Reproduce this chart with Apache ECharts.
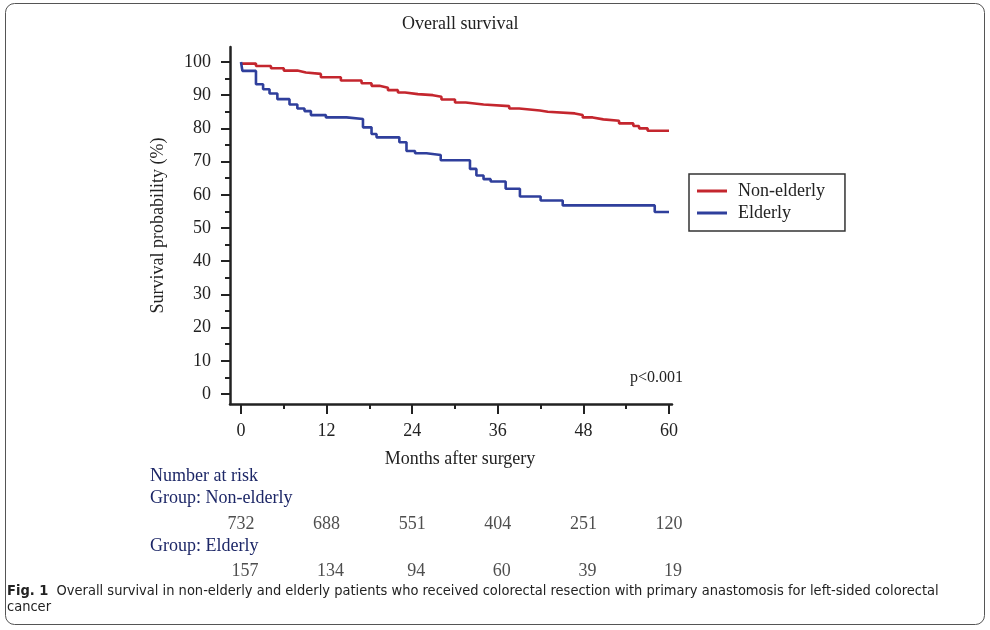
<!DOCTYPE html>
<html>
<head>
<meta charset="utf-8">
<script src="https://cdn.jsdelivr.net/npm/echarts@6/dist/echarts.min.js"></script>
<style>
html,body{margin:0;padding:0;background:#fff;}
#main{width:990px;height:630px;}
</style>
</head>
<body>
<div id="main"></div>
<script>
// ---- data ----
var seriesNames = ['Non-elderly', 'Elderly'];
var nonElderlyCurve = [
  [0, 99.5], [2.1, 98.8], [4.2, 98.1], [6.0, 97.4], [7.9, 96.8], [9.1, 96.4],
  [11.2, 95.4], [14.0, 94.4], [16.9, 93.6], [18.3, 92.8], [19.4, 92.2],
  [20.6, 91.5], [22.0, 90.8], [23.0, 90.3], [24.8, 90.0], [26.9, 89.5],
  [28.1, 88.7], [30.0, 87.8], [31.5, 87.2], [34.0, 86.7], [37.6, 86.0],
  [39.0, 85.4], [41.9, 85.0], [43.0, 84.5], [46.8, 84.0], [47.9, 83.3],
  [49.3, 82.7], [50.8, 82.3], [53.0, 81.5], [55.0, 80.7], [55.8, 80.0],
  [57.0, 79.3], [60, 79.3]
];
var elderlyCurve = [
  [0, 100], [0.2, 97.3], [2.1, 93.3], [3.1, 91.8], [4.0, 90.5], [5.1, 88.8],
  [6.8, 87.2], [7.9, 86.0], [8.9, 85.2], [9.8, 84.0], [11.9, 83.3],
  [14.8, 82.8], [17.1, 80.3], [18.3, 78.3], [19.0, 77.3], [22.2, 75.8],
  [23.2, 73.2], [24.4, 72.5], [26.0, 72.0], [28.0, 70.4], [32.1, 67.8],
  [33.0, 65.8], [34.0, 64.7], [35.0, 64.0], [37.1, 61.8], [39.1, 59.5],
  [42.0, 58.3], [45.1, 56.8], [58.0, 54.8], [60, 54.8]
];
var xMajorTicks = [0, 12, 24, 36, 48, 60];
var xMinorTicks = [6, 18, 30, 42, 54];
var yMajorTicks = [0, 10, 20, 30, 40, 50, 60, 70, 80, 90, 100];
var yMinorTicks = [5, 15, 25, 35, 45, 55, 65, 75, 85, 95];
var riskMonths = [0, 12, 24, 36, 48, 60];
var riskNonElderly = [732, 688, 551, 404, 251, 120];
var riskElderly = [157, 134, 94, 60, 39, 19];

var titleText = 'Overall survival';
var xAxisName = 'Months after surgery';
var yAxisName = 'Survival probability (%)';
var pValueText = 'p<0.001';
var riskTitle = 'Number at risk';
var groupLabels = ['Group: Non-elderly', 'Group: Elderly'];
var captionBold = 'Fig. 1';
var captionText = 'Overall survival in non-elderly and elderly patients who received colorectal resection with primary anastomosis for left-sided colorectal\ncancer';

// ---- styles ----
var SERIF = '"Liberation Serif", "Times New Roman", serif';
var CAPFONT = '"Liberation Sans Narrow", "DejaVu Sans Condensed", sans-serif';
var RED = '#c4262e';
var BLUE = '#2f3f9c';
var AXIS = '#222';
var NAVY = '#1d2767';
// axis extents: axes run a little past 0..60 and 0..100, as in the figure
var X_MIN = -1.54, X_MAX = 60.42;
var Y_MIN = -3.0, Y_MAX = 104.5;

var chart = echarts.init(document.getElementById('main'), null, {renderer: 'canvas'});

function riskData(values, row) {
  return riskMonths.map(function (m, i) { return [m, row, values[i]]; });
}

var option = {
  backgroundColor: '#fff',
  animation: false,
  title: [
    {text: titleText, left: 402, top: 15, padding: 0,
     textStyle: {fontFamily: SERIF, fontSize: 18, fontWeight: 'normal', color: AXIS}},
    {text: pValueText, left: 630, top: 370, padding: 0,
     textStyle: {fontFamily: SERIF, fontSize: 16, fontWeight: 'normal', color: AXIS}},
    {text: riskTitle, left: 150, top: 467, padding: 0,
     textStyle: {fontFamily: SERIF, fontSize: 18, fontWeight: 'normal', color: NAVY}},
    {text: groupLabels[0], left: 150, top: 489, padding: 0,
     textStyle: {fontFamily: SERIF, fontSize: 18, fontWeight: 'normal', color: NAVY}},
    {text: groupLabels[1], left: 150, top: 537, padding: 0,
     textStyle: {fontFamily: SERIF, fontSize: 18, fontWeight: 'normal', color: NAVY}},
    {text: '{b|' + captionBold + '}  ' + captionText, left: 7, top: 583, padding: 0,
     textStyle: {fontFamily: CAPFONT, fontSize: 14.5, fontWeight: 'normal', color: '#222', lineHeight: 16,
                 rich: {b: {fontFamily: CAPFONT, fontSize: 14.5, fontWeight: 'bold', color: '#222', lineHeight: 16}}}}
  ],
  legend: {
    data: seriesNames,
    orient: 'vertical',
    left: 689, top: 174,
    padding: [7, 20, 8, 8],
    itemGap: 2,
    itemWidth: 30, itemHeight: 3,
    icon: 'rect',
    borderColor: '#333', borderWidth: 1.5,
    textStyle: {fontFamily: SERIF, fontSize: 18, lineHeight: 20, color: AXIS, padding: [0, 0, 0, 6]}
  },
  grid: [
    {left: 230, top: 47, width: 442, height: 357},
    {left: 230, top: 502, width: 442, height: 90}
  ],
  xAxis: [
    {gridIndex: 0, type: 'value', position: 'bottom', min: X_MIN, max: X_MAX,
     axisLine: {show: true, onZero: false, lineStyle: {color: AXIS, width: 2.5}},
     axisTick: {show: true, customValues: xMajorTicks, length: 10, inside: false, lineStyle: {color: AXIS, width: 2}},
     axisLabel: {customValues: xMajorTicks, margin: 18, fontFamily: SERIF, fontSize: 18, color: AXIS},
     splitLine: {show: false},
     name: xAxisName, nameLocation: 'middle', nameGap: 46,
     nameTextStyle: {fontFamily: SERIF, fontSize: 18, color: AXIS, padding: [0, 0, 0, 18]}},
    {gridIndex: 0, type: 'value', position: 'bottom', offset: 0, min: X_MIN, max: X_MAX,
     axisLine: {show: false, onZero: false},
     axisTick: {show: true, customValues: xMinorTicks, length: 5, inside: false, lineStyle: {color: AXIS, width: 2}},
     axisLabel: {show: false}, splitLine: {show: false}},
    {gridIndex: 1, type: 'value', min: X_MIN, max: X_MAX, show: false}
  ],
  yAxis: [
    {gridIndex: 0, type: 'value', position: 'left', min: Y_MIN, max: Y_MAX,
     axisLine: {show: true, onZero: false, lineStyle: {color: AXIS, width: 2.5}},
     axisTick: {show: true, customValues: yMajorTicks, length: 9, inside: false, lineStyle: {color: AXIS, width: 2}},
     axisLabel: {customValues: yMajorTicks, margin: 19, fontFamily: SERIF, fontSize: 18, color: AXIS},
     splitLine: {show: false},
     name: yAxisName, nameLocation: 'middle', nameGap: 63,
     nameTextStyle: {fontFamily: SERIF, fontSize: 18, color: AXIS}},
    {gridIndex: 0, type: 'value', position: 'left', offset: 0, min: Y_MIN, max: Y_MAX,
     axisLine: {show: false, onZero: false},
     axisTick: {show: true, customValues: yMinorTicks, length: 5, inside: false, lineStyle: {color: AXIS, width: 2}},
     axisLabel: {show: false}, splitLine: {show: false}},
    {gridIndex: 1, type: 'category', data: seriesNames, inverse: true, show: false}
  ],
  series: [
    {name: seriesNames[0], type: 'line', step: 'end', xAxisIndex: 0, yAxisIndex: 0,
     data: nonElderlyCurve, showSymbol: false, symbol: 'none', color: RED,
     lineStyle: {color: RED, width: 2.6}},
    {name: seriesNames[1], type: 'line', step: 'end', xAxisIndex: 0, yAxisIndex: 0,
     data: elderlyCurve, showSymbol: false, symbol: 'none', color: BLUE,
     lineStyle: {color: BLUE, width: 2.6}},
    {type: 'scatter', xAxisIndex: 2, yAxisIndex: 2, data: riskData(riskNonElderly, seriesNames[0]),
     symbolSize: 1, itemStyle: {color: 'rgba(0,0,0,0)'}, silent: true,
     label: {show: true, position: 'inside', formatter: function (p) { return p.value[2]; },
             fontFamily: SERIF, fontSize: 18, color: AXIS}},
    {type: 'scatter', xAxisIndex: 2, yAxisIndex: 2, data: riskData(riskElderly, seriesNames[1]),
     symbolSize: 1, itemStyle: {color: 'rgba(0,0,0,0)'}, silent: true,
     label: {show: true, position: 'inside', offset: [4, 2], formatter: function (p) { return p.value[2]; },
             fontFamily: SERIF, fontSize: 18, color: AXIS}}
  ],
  graphic: [
    {type: 'rect', silent: true, z: -1,
     shape: {x: 5.5, y: 3.5, width: 979, height: 621, r: 9},
     style: {fill: 'none', stroke: '#555', lineWidth: 1}}
  ]
};
chart.setOption(option);
</script>
</body>
</html>
